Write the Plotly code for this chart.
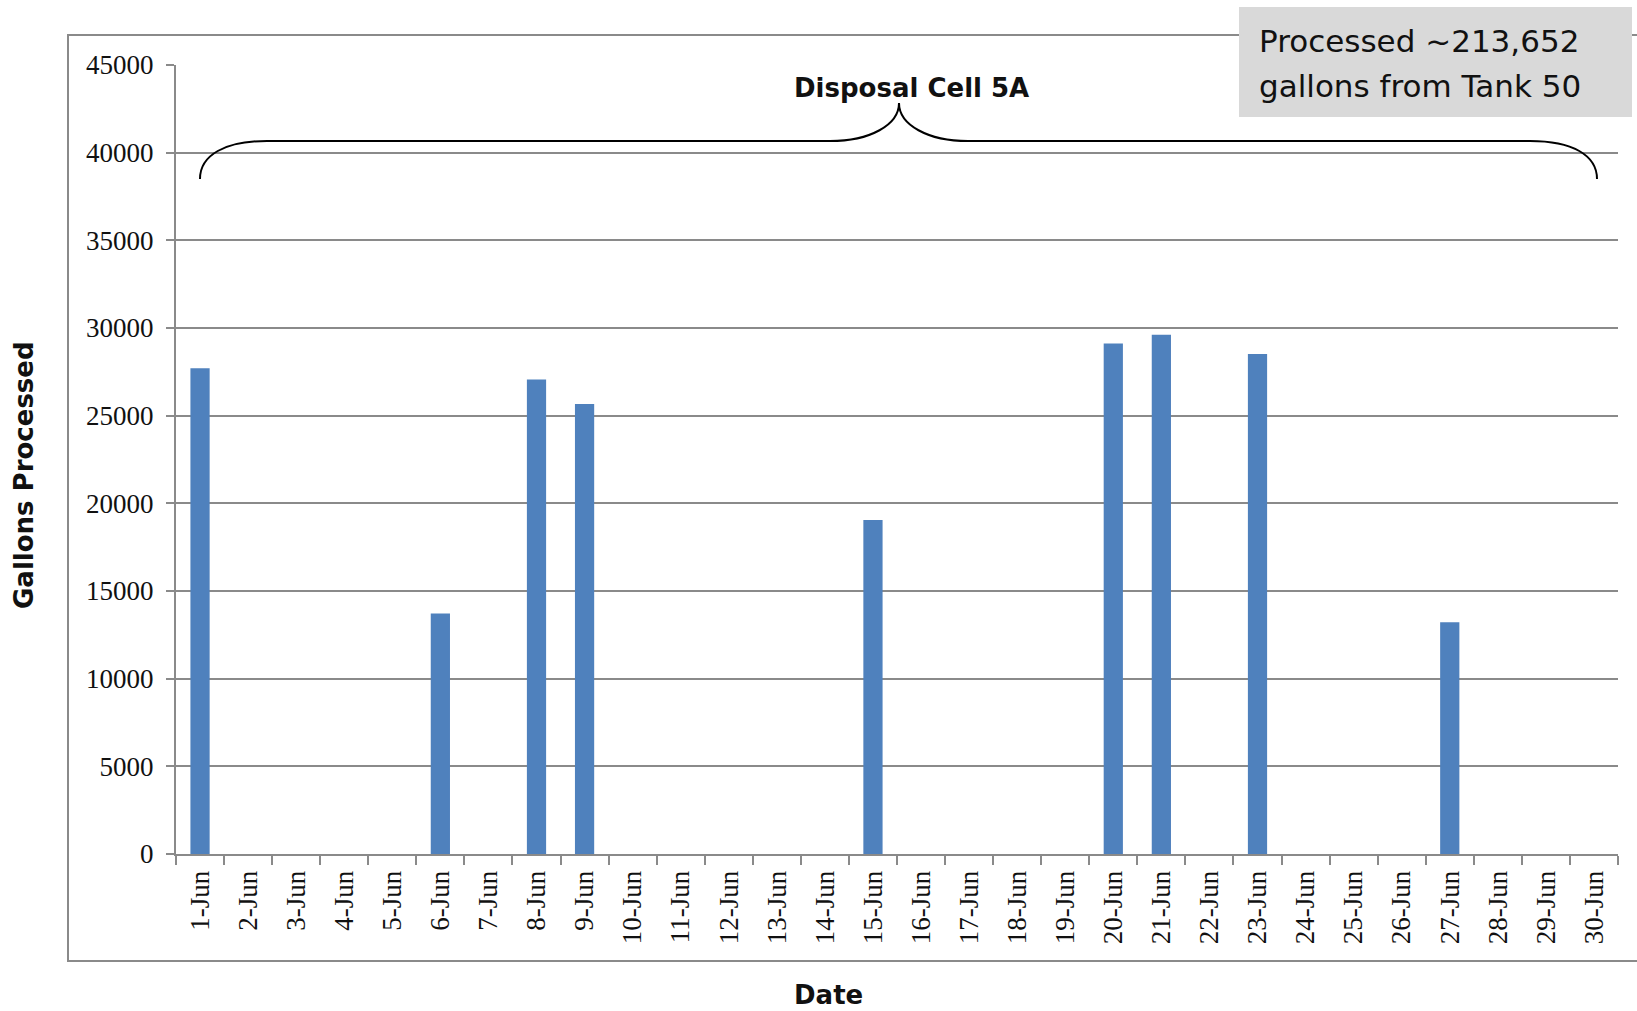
import plotly.graph_objects as go

dates = ["1-Jun", "2-Jun", "3-Jun", "4-Jun", "5-Jun", "6-Jun", "7-Jun", "8-Jun", "9-Jun", "10-Jun",
         "11-Jun", "12-Jun", "13-Jun", "14-Jun", "15-Jun", "16-Jun", "17-Jun", "18-Jun", "19-Jun", "20-Jun",
         "21-Jun", "22-Jun", "23-Jun", "24-Jun", "25-Jun", "26-Jun", "27-Jun", "28-Jun", "29-Jun", "30-Jun"]
gallons = [27700, 0, 0, 0, 0, 13710, 0, 27060, 25670, 0,
           0, 0, 0, 0, 19050, 0, 0, 0, 0, 29120,
           29610, 0, 28510, 0, 0, 0, 13220, 0, 0, 0]

y_ticks = [0, 5000, 10000, 15000, 20000, 25000, 30000, 35000, 40000, 45000]

note_lines = ["Processed ~213,652", "gallons from Tank 50"]

W, H = 1637, 1011
L, R, T, B = 176, 1618, 65, 854  # plot area in pixels


def xp(x):
    return (x - L) / (R - L)


def yp(y):
    return (B - y) / (B - T)


GRID = "#8a8a8a"
SANS = "DejaVu Sans"
SERIF = "Liberation Serif, Times New Roman, serif"

fig = go.Figure()
fig.add_trace(go.Bar(
    x=dates, y=gallons,
    marker=dict(color="#4f81bd", line=dict(width=0)),
    showlegend=False,
))

# curly brace over the whole range
pts = [(200, 179), (200, 155), (225, 141), (267, 141), (830, 141), (870, 141), (899, 125), (899, 103),
       (899, 125), (928, 141), (968, 141), (1530, 141), (1572, 141), (1597, 155), (1597, 179)]
P = [(xp(a), yp(b)) for a, b in pts]
path = (f"M {P[0][0]},{P[0][1]} C {P[1][0]},{P[1][1]} {P[2][0]},{P[2][1]} {P[3][0]},{P[3][1]} "
        f"L {P[4][0]},{P[4][1]} C {P[5][0]},{P[5][1]} {P[6][0]},{P[6][1]} {P[7][0]},{P[7][1]} "
        f"C {P[8][0]},{P[8][1]} {P[9][0]},{P[9][1]} {P[10][0]},{P[10][1]} "
        f"L {P[11][0]},{P[11][1]} C {P[12][0]},{P[12][1]} {P[13][0]},{P[13][1]} {P[14][0]},{P[14][1]}")

shapes = [
    # outer chart border
    dict(type="rect", xref="paper", yref="paper", x0=xp(68), x1=xp(1660), y0=yp(961), y1=yp(35),
         line=dict(color=GRID, width=2), layer="below"),
    dict(type="path", xref="paper", yref="paper", path=path, line=dict(color="black", width=2)),
    # gray note box
    dict(type="rect", xref="paper", yref="paper", x0=xp(1239), x1=xp(1632), y0=yp(117), y1=yp(7),
         fillcolor="#d9d9d9", line=dict(width=0), layer="above"),
]

annotations = [
    dict(xref="paper", yref="paper", x=xp(1257), y=yp(41), xanchor="left", yanchor="middle",
         text=note_lines[0], showarrow=False, font=dict(family=SANS, size=31, color="#111")),
    dict(xref="paper", yref="paper", x=xp(1257), y=yp(86), xanchor="left", yanchor="middle",
         text=note_lines[1], showarrow=False, font=dict(family=SANS, size=31, color="#111")),
    dict(xref="paper", yref="paper", x=xp(911), y=yp(88), xanchor="center", yanchor="middle",
         text="<b>Disposal Cell 5A</b>", showarrow=False, font=dict(family=SANS, size=26, color="#111")),
    dict(xref="paper", yref="paper", x=xp(24), y=yp(475), xanchor="center", yanchor="middle",
         text="<b>Gallons Processed</b>", textangle=-90, showarrow=False,
         font=dict(family=SANS, size=26, color="#111")),
    dict(xref="paper", yref="paper", x=xp(828), y=yp(995), xanchor="center", yanchor="middle",
         text="<b>Date</b>", showarrow=False, font=dict(family=SANS, size=26, color="#111")),
]

fig.update_layout(
    width=W, height=H, autosize=False,
    margin=dict(l=L, r=W - R, t=T, b=H - B, pad=0),
    paper_bgcolor="white", plot_bgcolor="white",
    bargap=0.6,
    shapes=shapes, annotations=annotations,
    xaxis=dict(
        type="category", tickangle=-90, tickson="boundaries",
        ticks="outside", ticklen=9, tickwidth=2, tickcolor=GRID,
        showline=True, linecolor=GRID, linewidth=2, showgrid=False,
        ticklabelstandoff=4,
        tickfont=dict(family=SERIF, size=27, color="#111"),
    ),
    yaxis=dict(
        range=[0, 45000], tickvals=y_ticks, ticktext=[str(v) for v in y_ticks],
        ticks="outside", ticklen=8, tickwidth=2, tickcolor=GRID,
        showline=True, linecolor=GRID, linewidth=2,
        showgrid=True, gridcolor=GRID, gridwidth=2, zeroline=False,
        ticklabelstandoff=7,
        tickfont=dict(family=SERIF, size=27, color="#111"),
    ),
)

fig.write_html("out.html")
